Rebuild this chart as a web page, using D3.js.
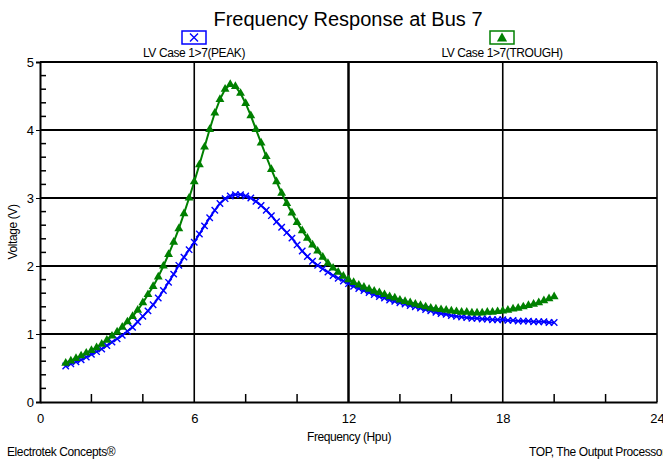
<!DOCTYPE html>
<html>
<head>
<meta charset="utf-8">
<script src="https://cdn.jsdelivr.net/npm/d3@7"></script>
<style>
  body { margin: 0; background: #fff; }
  svg { display: block; }
  text { font-family: "Liberation Sans", Arial, sans-serif; fill: #000; }
</style>
</head>
<body>
<div id="chart"></div>
<script>
// sample frequencies (harmonic number)
const freq = [1.0, 1.2, 1.4, 1.6, 1.8, 2.0, 2.2, 2.4, 2.6, 2.8, 3.0, 3.2, 3.4, 3.6, 3.8, 4.0,
  4.2, 4.4, 4.6, 4.8, 5.0, 5.2, 5.4, 5.6, 5.8, 6.0, 6.2, 6.4, 6.6, 6.8, 7.0, 7.2, 7.4, 7.6,
  7.8, 8.0, 8.2, 8.4, 8.6, 8.8, 9.0, 9.2, 9.4, 9.6, 9.8, 10.0, 10.2, 10.4, 10.6, 10.8, 11.0,
  11.2, 11.4, 11.6, 11.8, 12.0, 12.2, 12.4, 12.6, 12.8, 13.0, 13.2, 13.4, 13.6, 13.8, 14.0,
  14.2, 14.4, 14.6, 14.8, 15.0, 15.2, 15.4, 15.6, 15.8, 16.0, 16.2, 16.4, 16.6, 16.8, 17.0,
  17.2, 17.4, 17.6, 17.8, 18.0, 18.2, 18.4, 18.6, 18.8, 19.0, 19.2, 19.4, 19.6, 19.8, 20.0]

// LV Case 1>7 (PEAK)
const peak = [0.53, 0.56, 0.59, 0.62, 0.66, 0.70, 0.74, 0.78, 0.83, 0.88, 0.93, 0.98, 1.04,
  1.10, 1.18, 1.26, 1.34, 1.43, 1.53, 1.64, 1.76, 1.88, 2.01, 2.13, 2.24, 2.35, 2.47, 2.59,
  2.71, 2.82, 2.92, 2.99, 3.03, 3.05, 3.05, 3.03, 3.00, 2.95, 2.89, 2.82, 2.74, 2.65, 2.57,
  2.49, 2.41, 2.31, 2.22, 2.14, 2.07, 2.01, 1.96, 1.91, 1.86, 1.82, 1.78, 1.74, 1.70, 1.67,
  1.64, 1.61, 1.58, 1.55, 1.53, 1.50, 1.48, 1.46, 1.44, 1.42, 1.40, 1.38, 1.36, 1.34, 1.32,
  1.30, 1.29, 1.27, 1.26, 1.25, 1.24, 1.23, 1.23, 1.22, 1.22, 1.21, 1.21, 1.21, 1.20, 1.20,
  1.19, 1.19, 1.19, 1.18, 1.18, 1.18, 1.17, 1.17]

// LV Case 1>7 (TROUGH)
const trough = [0.57, 0.605, 0.64, 0.68, 0.72, 0.76, 0.80, 0.85, 0.91, 0.97, 1.03, 1.10, 1.18,
  1.26, 1.35, 1.46, 1.58, 1.70, 1.84, 2.00, 2.17, 2.35, 2.55, 2.77, 3.00, 3.24, 3.49, 3.75,
  4.01, 4.25, 4.45, 4.60, 4.67, 4.64, 4.54, 4.39, 4.21, 4.01, 3.81, 3.61, 3.42, 3.24, 3.07,
  2.92, 2.78, 2.64, 2.52, 2.41, 2.31, 2.22, 2.13, 2.04, 1.97, 1.91, 1.85, 1.80, 1.76, 1.72,
  1.69, 1.66, 1.63, 1.61, 1.58, 1.55, 1.53, 1.50, 1.48, 1.46, 1.44, 1.42, 1.40, 1.38, 1.37,
  1.36, 1.35, 1.34, 1.33, 1.32, 1.32, 1.31, 1.31, 1.31, 1.32, 1.32, 1.33, 1.34, 1.35, 1.37,
  1.38, 1.40, 1.42, 1.44, 1.46, 1.49, 1.52, 1.55]

const xTicks = [0, 6, 12, 18, 24]
const yTicks = [0, 1, 2, 3, 4, 5]
const legendNames = ["LV Case 1>7(PEAK)", "LV Case 1>7(TROUGH)"]

const W = 663, H = 462
const margin = {top: 62, right: 6, bottom: 60, left: 40}
const width = W - margin.left - margin.right
const height = H - margin.top - margin.bottom

const blue = "#0000ff", green = "#008000"

let svg = d3.select("#chart")
    .append("svg")
    .attr("width", W)
    .attr("height", H)

var x = d3.scaleLinear().domain([0, 24]).range([0, width])
var y = d3.scaleLinear().domain([0, 5]).range([height, 0])

var g = svg.append("g")
    .attr("transform", "translate(" + margin.left + "," + margin.top + ")")

// gitter
g.selectAll(".hgrid")
    .data(yTicks.filter(d => d > 0))
    .enter().append("line")
    .attr("x1", 0).attr("x2", width)
    .attr("y1", d => y(d)).attr("y2", d => y(d))
    .attr("stroke", "#000").attr("stroke-width", 2)

g.selectAll(".vgrid")
    .data(xTicks.filter(d => d > 0))
    .enter().append("line")
    .attr("x1", d => x(d)).attr("x2", d => x(d))
    .attr("y1", 0).attr("y2", height)
    .attr("stroke", "#000").attr("stroke-width", d => d == 12 ? 2.5 : 1.6)

// y-achse
var yAxis = g.append("g")
    .call(d3.axisLeft(y).tickValues(yTicks).tickSize(4).tickPadding(2).tickFormat(d3.format("d")))
yAxis.select(".domain").attr("stroke-width", 2)
yAxis.selectAll(".tick text").attr("font-size", 13).attr("font-family", "Liberation Sans, Arial")

var yMinor = d3.range(0, 50).map(d => d / 10).filter(d => Math.round(d * 10) % 2 == 0 && d % 1 != 0)
g.selectAll(".yminor")
    .data(yMinor)
    .enter().append("line")
    .attr("x1", 0).attr("x2", 6)
    .attr("y1", d => y(d)).attr("y2", d => y(d))
    .attr("stroke", "#000").attr("stroke-width", 1.5)

// x-achse
var xAxis = g.append("g")
    .attr("transform", "translate(0," + height + ")")
    .call(d3.axisBottom(x).tickValues(xTicks).tickSize(0).tickPadding(12))
xAxis.select(".domain").attr("stroke-width", 2)
xAxis.selectAll(".tick text").attr("font-size", 13).attr("font-family", "Liberation Sans, Arial")

var xMinor = [2, 4, 8, 10, 14, 16, 20, 22]
g.selectAll(".xminor")
    .data(xMinor)
    .enter().append("line")
    .attr("x1", d => x(d)).attr("x2", d => x(d))
    .attr("y1", height).attr("y2", height - 8)
    .attr("stroke", "#000").attr("stroke-width", 1.5)

// kurven
var line = d3.line()
    .x((d, i) => x(freq[i]))
    .y(d => y(d))

g.append("path").datum(peak)
    .attr("d", line).attr("fill", "none")
    .attr("stroke", blue).attr("stroke-width", 2)

g.append("path").datum(trough)
    .attr("d", line).attr("fill", "none")
    .attr("stroke", green).attr("stroke-width", 2)

function xMark(sel, s) {
    sel.append("path")
        .attr("d", `M${-s},${-s}L${s},${s}M${-s},${s}L${s},${-s}`)
        .attr("stroke", blue).attr("stroke-width", 1.4).attr("fill", "none")
}

g.selectAll(".pk")
    .data(peak)
    .enter().append("g")
    .attr("transform", (d, i) => "translate(" + x(freq[i]) + "," + y(d) + ")")
    .call(xMark, 3.2)

var tri = d3.symbol().type(d3.symbolTriangle).size(34)
g.selectAll(".tr")
    .data(trough)
    .enter().append("path")
    .attr("d", tri)
    .attr("transform", (d, i) => "translate(" + x(freq[i]) + "," + y(d) + ")")
    .attr("fill", green)

// titel und legende
svg.append("text")
    .attr("x", 348).attr("y", 26)
    .attr("text-anchor", "middle")
    .attr("font-size", 20)
    .text("Frequency Response at Bus 7")

var legX = [194, 502]
var leg = svg.selectAll(".legend")
    .data(legendNames)
    .enter().append("g")
    .attr("transform", (d, i) => "translate(" + legX[i] + ",0)")

leg.append("rect")
    .attr("x", -12).attr("y", 31).attr("width", 24).attr("height", 13)
    .attr("fill", "none")
    .attr("stroke", (d, i) => i == 0 ? blue : green)
    .attr("stroke-width", 1.5)

leg.append("text")
    .attr("y", 57)
    .attr("text-anchor", "middle")
    .attr("font-size", 12)
    .attr("letter-spacing", -0.4)
    .text(d => d)

leg.filter((d, i) => i == 0).append("g")
    .attr("transform", "translate(0,37.5)")
    .call(xMark, 4)

leg.filter((d, i) => i == 1).append("path")
    .attr("d", d3.symbol().type(d3.symbolTriangle).size(45))
    .attr("transform", "translate(0,38.5)")
    .attr("fill", green)

// achsenbeschriftung
svg.append("text")
    .attr("x", 349).attr("y", 441)
    .attr("text-anchor", "middle")
    .attr("font-size", 12)
    .attr("letter-spacing", -0.4)
    .text("Frequency (Hpu)")

svg.append("text")
    .attr("transform", "translate(17,232) rotate(-90)")
    .attr("text-anchor", "middle")
    .attr("font-size", 12)
    .attr("letter-spacing", -0.4)
    .text("Voltage (V)")

svg.append("text")
    .attr("x", 7).attr("y", 456)
    .attr("font-size", 12)
    .attr("letter-spacing", -0.4)
    .text("Electrotek Concepts®")

svg.append("text")
    .attr("x", 529).attr("y", 456)
    .attr("font-size", 12)
    .attr("letter-spacing", -0.4)
    .text("TOP, The Output Processor®")
</script>
</body>
</html>
